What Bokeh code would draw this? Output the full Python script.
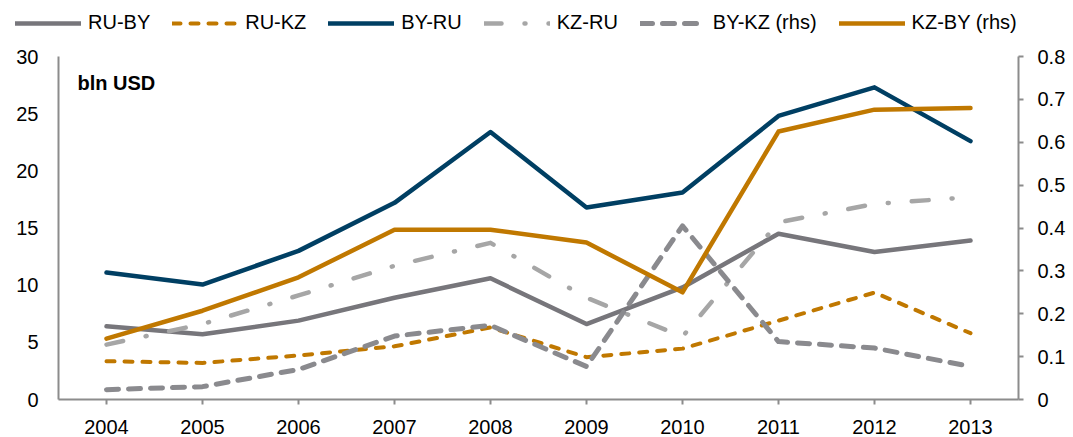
from bokeh.plotting import figure
from bokeh.models import (FactorRange, Range1d, LinearAxis, FixedTicker, Legend,
                          LegendItem, Label, PrintfTickFormatter)
from bokeh.embed import file_html
from bokeh.resources import INLINE

years = ["2004", "2005", "2006", "2007", "2008", "2009", "2010", "2011", "2012", "2013"]
ru_by = [6.4, 5.7, 6.9, 8.9, 10.6, 6.6, 9.8, 14.5, 12.9, 13.9]
ru_kz = [3.35, 3.2, 3.85, 4.65, 6.3, 3.7, 4.45, 6.9, 9.35, 5.8]
by_ru = [11.1, 10.05, 13.0, 17.2, 23.4, 16.8, 18.1, 24.8, 27.3, 22.6]
kz_ru = [4.8, 6.6, 9.1, 11.7, 13.7, 8.9, 5.5, 15.5, 17.1, 17.7]
by_kz = [0.023, 0.03, 0.07, 0.148, 0.173, 0.077, 0.405, 0.135, 0.12, 0.077]
kz_by = [0.142, 0.207, 0.285, 0.396, 0.396, 0.366, 0.25, 0.625, 0.676, 0.68]

series_names = ["RU-BY", "RU-KZ", "BY-RU", "KZ-RU", "BY-KZ (rhs)", "KZ-BY (rhs)"]
series_values = [ru_by, ru_kz, by_ru, kz_ru, by_kz, kz_by]
series_rhs = [False, False, False, False, True, True]
left_ticks = [0, 5, 10, 15, 20, 25, 30]
right_ticks = [0, 0.1, 0.2, 0.3, 0.4, 0.5, 0.6, 0.7, 0.8]
unit_label = "bln USD"

FONT = "Liberation Sans"
AXIS_COLOR = "#8c8c8c"

styles = [
    dict(line_color="#77767b", line_width=4.5),
    dict(line_color="#c07800", line_width=4, line_dash="8 10"),
    dict(line_color="#003f63", line_width=4.5),
    dict(line_color="#a6a6a6", line_width=4.5, line_dash="17 23 1 23"),
    dict(line_color="#8a8a8e", line_width=5, line_dash="12 10"),
    dict(line_color="#c07800", line_width=4.5),
]
common = dict(line_join="round", line_cap="round")

p = figure(width=1073, height=397, output_backend="svg", toolbar_location=None,
           x_range=FactorRange(*years, range_padding=0), y_range=Range1d(0, 30),
           min_border_left=58, min_border_right=55, min_border_top=16,
           min_border_bottom=38)
p.extra_y_ranges = {"rhs": Range1d(0, 0.8)}
p.outline_line_color = None
p.xgrid.visible = False
p.ygrid.visible = False

ya = p.yaxis[0]
ya.ticker = FixedTicker(ticks=left_ticks)
ya.axis_line_color = AXIS_COLOR
ya.axis_line_width = 2
ya.major_tick_out = 0
ya.major_tick_in = 0
ya.minor_tick_out = 0
ya.minor_tick_in = 0
ya.major_label_standoff = 20
ya.major_label_text_font = FONT
ya.major_label_text_font_size = "20px"
ya.major_label_text_color = "black"

xa = p.xaxis[0]
xa.axis_line_color = AXIS_COLOR
xa.axis_line_width = 2
xa.major_tick_line_color = AXIS_COLOR
xa.major_tick_line_width = 2
xa.major_tick_out = 5
xa.major_tick_in = 0
xa.major_label_standoff = 15
xa.major_label_text_font = FONT
xa.major_label_text_font_size = "20px"
xa.major_label_text_color = "black"

ra = LinearAxis(y_range_name="rhs", ticker=FixedTicker(ticks=right_ticks),
                formatter=PrintfTickFormatter(format="%g"))
ra.axis_line_color = AXIS_COLOR
ra.axis_line_width = 2
ra.major_tick_line_color = AXIS_COLOR
ra.major_tick_line_width = 2
ra.major_tick_out = 5
ra.major_tick_in = 0
ra.minor_tick_out = 0
ra.minor_tick_in = 0
ra.major_label_standoff = 14
ra.major_label_text_font = FONT
ra.major_label_text_font_size = "20px"
ra.major_label_text_color = "black"
p.add_layout(ra, "right")

for vals, st, rhs in zip(series_values, styles, series_rhs):
    if rhs:
        p.line(years, vals, y_range_name="rhs", **st, **common)
    else:
        p.line(years, vals, **st, **common)

lbl = Label(x=0.198, y=27.7, text=unit_label,
            text_font=FONT, text_font_size="20px", text_font_style="bold",
            text_color="black", text_baseline="middle", text_align="left")
p.add_layout(lbl)

# legend strip above the chart: its own root, so its frame spans the full width
lf = figure(width=1073, height=40, output_backend="svg", toolbar_location=None,
            x_range=FactorRange(*years, range_padding=0), y_range=Range1d(0, 30),
            x_axis_type=None, y_axis_type=None,
            min_border_left=0, min_border_right=0, min_border_top=0, min_border_bottom=0)
lf.extra_y_ranges = {"rhs": Range1d(0, 0.8)}
lf.outline_line_color = None
lf.xgrid.visible = False
lf.ygrid.visible = False
items = []
for name, vals, st, rhs in zip(series_names, series_values, styles, series_rhs):
    kw = dict(y_range_name="rhs") if rhs else {}
    r = lf.line(years, vals, visible=False, **kw, **st, **common)
    items.append(LegendItem(label=name, renderers=[r]))
legend = Legend(items=items, orientation="horizontal", location=(15, 6), padding=0,
                margin=0, spacing=22, glyph_width=66, glyph_height=20, label_standoff=7,
                label_text_font=FONT, label_text_font_size="20px", label_text_color="black",
                border_line_alpha=0, background_fill_alpha=0,
                inactive_fill_alpha=0, click_policy="none")
lf.add_layout(legend, "center")

open("out.html", "w").write(file_html([lf, p], INLINE))
